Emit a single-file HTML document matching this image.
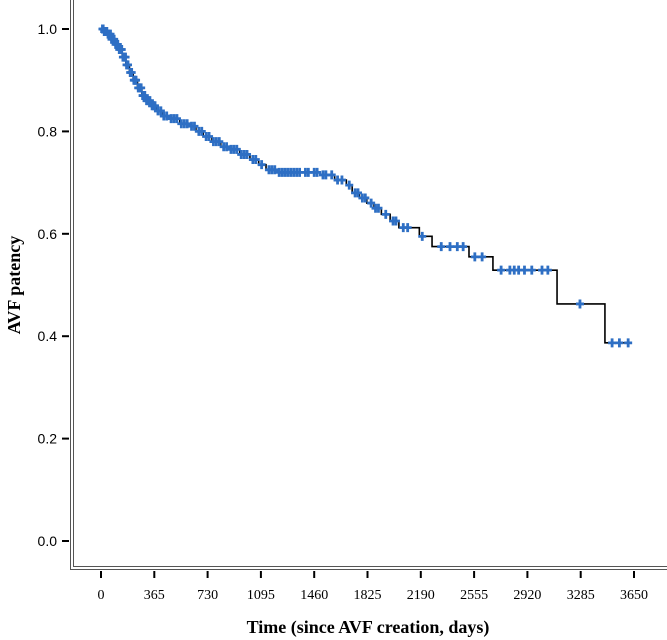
<!DOCTYPE html>
<html><head><meta charset="utf-8"><style>
body{margin:0;background:#fff;width:667px;height:640px;overflow:hidden}
svg{display:block}
</style></head><body>
<svg id="chart" width="667" height="640" xmlns="http://www.w3.org/2000/svg">
<g id="axes">
<line x1="70.5" y1="0" x2="70.5" y2="569.5" stroke="#555" stroke-width="1"/>
<line x1="70" y1="569.5" x2="667" y2="569.5" stroke="#555" stroke-width="1"/>
<line x1="73.5" y1="0" x2="73.5" y2="566.5" stroke="#555" stroke-width="1"/>
<line x1="73" y1="566.5" x2="667" y2="566.5" stroke="#555" stroke-width="1"/>
</g>
<g id="ticks"></g>
<g id="curve"></g>
<g id="censors"></g>
<text transform="translate(20,285) rotate(-90)" text-anchor="middle" font-family="Liberation Serif, serif" font-weight="bold" font-size="18">AVF patency</text>
<text x="368" y="633" text-anchor="middle" font-family="Liberation Serif, serif" font-weight="bold" font-size="18">Time (since AVF creation, days)</text>
</svg>
<script>
const xTicks=[0,365,730,1095,1460,1825,2190,2555,2920,3285,3650];
const yTicks=[0.0,0.2,0.4,0.6,0.8,1.0];
const eventTimes=[0,20,45,70,95,120,145,170,195,220,250,280,310,340,380,420,470,540,600,650,700,760,820,880,950,1020,1080,1130,1200,1500,1600,1680,1720,1770,1820,1870,1920,1980,2040,2180,2267,2520,2684,3123,3451];
const survival=[1.0,0.995,0.99,0.98,0.97,0.96,0.945,0.93,0.915,0.90,0.885,0.87,0.86,0.85,0.84,0.83,0.825,0.815,0.81,0.80,0.79,0.78,0.77,0.765,0.755,0.745,0.735,0.725,0.72,0.715,0.705,0.695,0.68,0.67,0.66,0.65,0.638,0.625,0.612,0.595,0.575,0.555,0.529,0.463,0.387];
const endTime=3620;
const censorTimes=[10,15,22,30,40,48,55,65,72,80,90,100,108,115,125,135,142,150,160,168,175,185,200,210,225,232,240,255,265,275,285,300,312,320,335,350,360,370,390,410,430,450,480,500,520,550,570,590,620,640,670,690,720,740,770,790,810,840,860,890,910,930,960,980,1000,1040,1060,1100,1150,1170,1190,1220,1240,1260,1280,1300,1320,1340,1360,1400,1420,1460,1480,1520,1540,1580,1620,1650,1700,1740,1760,1790,1810,1850,1880,1900,1950,2000,2020,2070,2100,2200,2330,2390,2440,2480,2560,2610,2740,2800,2830,2860,2900,2950,3020,3060,3280,3500,3550,3610];
const NS='http://www.w3.org/2000/svg';
const xs=t=>101+t*533/3650;
const ys=s=>29+(1-s)*512;
function mk(tag,attrs,parent){const e=document.createElementNS(NS,tag);for(const k in attrs)e.setAttribute(k,attrs[k]);parent.appendChild(e);return e;}
const tg=document.getElementById('ticks');
xTicks.forEach(v=>{
  const l=mk('line',{x1:xs(v),x2:xs(v),y1:571,y2:578,stroke:'#000','stroke-width':2},tg);
  
  
  const t=mk('text',{x:xs(v),y:599,'text-anchor':'middle','font-family':'Liberation Serif, serif','font-size':14},tg);
  t.textContent=v;
  
  
});
yTicks.forEach(v=>{
  const l=mk('line',{x1:62,x2:69,y1:ys(v),y2:ys(v),stroke:'#000','stroke-width':2},tg);
  
  
  const t=mk('text',{x:57,y:ys(v)+5,'text-anchor':'end','font-family':'Liberation Sans, sans-serif','font-size':14},tg);
  t.textContent=v.toFixed(1);
  
  
});
function survAt(t){let s=1;for(let i=0;i<eventTimes.length;i++){if(eventTimes[i]<=t)s=survival[i];}return s;}
let d='M'+xs(0)+' '+ys(survival[0]);
for(let i=1;i<eventTimes.length;i++){d+=' H'+xs(eventTimes[i])+' V'+ys(survival[i]);}
d+=' H'+xs(endTime);
const path=mk('path',{d:d,fill:'none',stroke:'#000','stroke-width':1.6},document.getElementById('curve'));


const cg=document.getElementById('censors');
censorTimes.forEach(t=>{
  const x=xs(t),y=ys(survAt(t));
  const g=mk('path',{d:`M${x-4} ${y} H${x+4} M${x} ${y-4.5} V${y+4.5}`,stroke:'#2e6fc4','stroke-width':2.8,fill:'none'},cg);
  
  
});
</script>
</body></html>
